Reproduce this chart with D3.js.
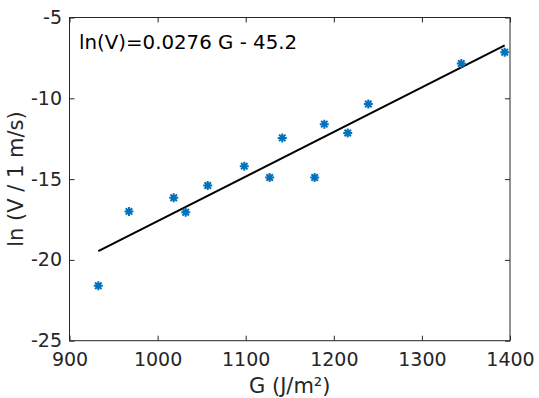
<!DOCTYPE html>
<html>
<head>
<meta charset="utf-8">
<script src="https://cdn.jsdelivr.net/npm/d3@7"></script>
<style>
  body { margin: 0; background: #fff; }
  text { font-family: "DejaVu Sans", sans-serif; }
</style>
</head>
<body>
<div id="vizcontainer"></div>
<script>
const gValues = [932.7, 967.5, 1018.3, 1031.9, 1056.9, 1098.4, 1127.2, 1141.5, 1178.3, 1189.2, 1215.8, 1239.2, 1344.7, 1394.0],
  lnValues = [-21.6, -17.0, -16.15, -17.05, -15.4, -14.2, -14.9, -12.45, -14.9, -11.6, -12.15, -10.35, -7.85, -7.15],
  xTicks = [900, 1000, 1100, 1200, 1300, 1400],
  yTicks = [-25, -20, -15, -10, -5],
  slope = 0.0276,
  intercept = -45.2;

const
  width = 539,
  height = 398,
  margin = { left: 69.5, right: 29, top: 17.5, bottom: 57.3 },
  blue = '#0072BD',
  axisColor = '#262626';

const svg = d3.select('#vizcontainer')
  .append('svg')
  .attr('width', width)
  .attr('height', height);

const x = d3.scaleLinear()
  .domain([900, 1400])
  .range([margin.left, width - margin.right]);

const y = d3.scaleLinear()
  .domain([-25, -5])
  .range([height - margin.bottom, margin.top]);

// box
svg.append('rect')
  .attr('x', x(900))
  .attr('y', y(-5))
  .attr('width', x(1400) - x(900))
  .attr('height', y(-25) - y(-5))
  .attr('fill', 'none')
  .attr('stroke', axisColor)
  .attr('stroke-width', 1);

// axes, ticks pointing inward like matlab
const plain = d => String(d);
svg.append('g')
  .attr('transform', `translate(0,${y(-25)})`)
  .call(d3.axisBottom(x).tickValues(xTicks).tickFormat(plain).tickSizeInner(-5).tickSizeOuter(0).tickPadding(12));
svg.append('g')
  .attr('transform', `translate(0,${y(-5)})`)
  .call(d3.axisTop(x).tickValues(xTicks).tickSizeInner(-5).tickSizeOuter(0).tickFormat(''));
svg.append('g')
  .attr('transform', `translate(${x(900)},0)`)
  .call(d3.axisLeft(y).tickValues(yTicks).tickFormat(plain).tickSizeInner(-5).tickSizeOuter(0).tickPadding(7.5));
svg.append('g')
  .attr('transform', `translate(${x(1400)},0)`)
  .call(d3.axisRight(y).tickValues(yTicks).tickSizeInner(-5).tickSizeOuter(0).tickFormat(''));

svg.selectAll('.domain').remove();
svg.selectAll('.tick line').attr('stroke', axisColor);
svg.selectAll('.tick text')
  .attr('fill', axisColor)
  .style('font-size', '19px')
  .style('font-family', '"DejaVu Sans", sans-serif');

// fit line
const gExtent = d3.extent(gValues);
const line = d3.line().x(d => x(d)).y(d => y(slope * d + intercept));
svg.append('path')
  .datum(gExtent)
  .attr('d', line)
  .attr('stroke', '#000')
  .attr('stroke-width', 2)
  .attr('fill', 'none');

// asterisk markers
const r = 4.5, rd = r * 0.72;
const markers = svg.append('g')
  .selectAll('g')
  .data(gValues)
  .join('g')
  .attr('transform', (d, i) => `translate(${x(d)},${y(lnValues[i])})`);
markers.append('path')
  .attr('d', `M${-r},0H${r}M0,${-r}V${r}M${-rd},${-rd}L${rd},${rd}M${-rd},${rd}L${rd},${-rd}`)
  .attr('stroke', blue)
  .attr('stroke-width', 2)
  .attr('fill', 'none');

// equation
svg.append('text')
  .attr('x', 79)
  .attr('y', 48.5)
  .attr('fill', '#000')
  .style('font-size', '19.8px')
  .text('ln(V)=0.0276 G - 45.2');

// axis labels
svg.append('text')
  .attr('x', (x(900) + x(1400)) / 2)
  .attr('y', 393)
  .attr('text-anchor', 'middle')
  .attr('fill', axisColor)
  .style('font-size', '21px')
  .text('G (J/m²)');

svg.append('text')
  .attr('transform', `translate(22.5,${(y(-5) + y(-25)) / 2}) rotate(-90)`)
  .attr('text-anchor', 'middle')
  .attr('fill', axisColor)
  .style('font-size', '21px')
  .text('ln (V / 1 m/s)');
</script>
</body>
</html>
